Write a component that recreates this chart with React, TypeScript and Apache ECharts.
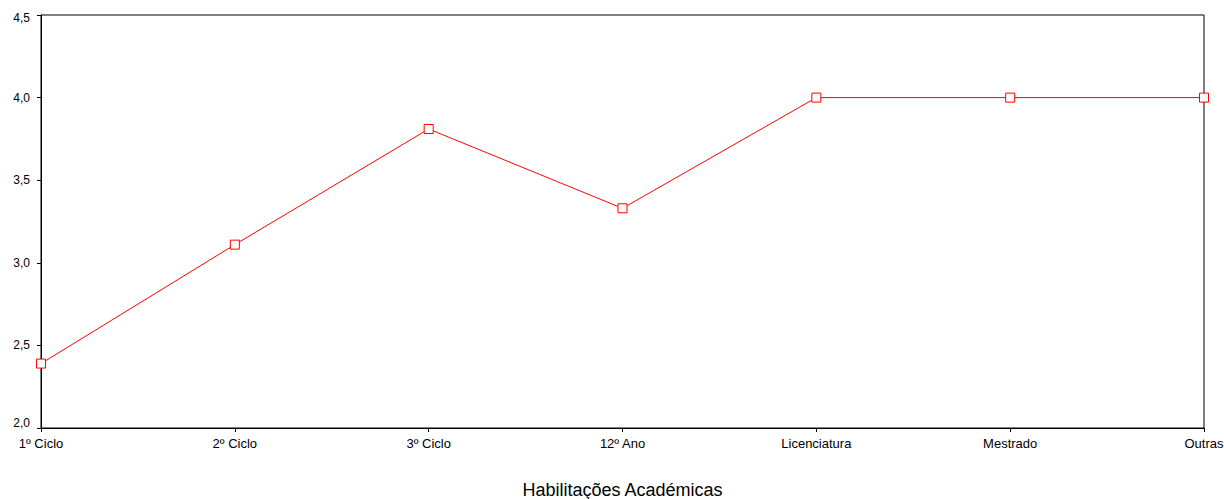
import React, { useEffect, useRef } from "react";
import * as echarts from "echarts";

const categories = ["1º Ciclo", "2º Ciclo", "3º Ciclo", "12º Ano", "Licenciatura", "Mestrado", "Outras"];
const values = [2.39, 3.11, 3.81, 3.33, 4.0, 4.0, 4.0];
const axisTitle = "Habilitações Académicas";
const yMin = 2.0;
const yMax = 4.5;
const yStep = 0.5;

const FONT = "'Liberation Sans', Arial, sans-serif";

export default function App() {
  const ref = useRef<HTMLDivElement>(null);

  useEffect(() => {
    if (!ref.current) return;
    const chart = echarts.init(ref.current, undefined, { renderer: "svg", width: 1224, height: 499 });
    const labelText = { fontFamily: FONT, fontSize: 12, color: "#000" };
    chart.setOption({
      animation: false,
      backgroundColor: "#ffffff",
      grid: {
        left: 41,
        right: 20,
        top: 15,
        bottom: 71,
        outerBoundsMode: "none",
        containLabel: false,
        show: true,
        borderColor: "#000000",
        borderWidth: 1,
        backgroundColor: "transparent",
      },
      xAxis: {
        type: "category",
        data: categories,
        boundaryGap: false,
        name: axisTitle,
        nameLocation: "middle",
        nameGap: 53,
        nameTextStyle: { fontFamily: FONT, fontSize: 18, color: "#000" },
        axisLine: { lineStyle: { color: "#000", width: 1 } },
        axisTick: { show: true, length: 4, lineStyle: { color: "#000" }, alignWithLabel: true },
        axisLabel: { fontFamily: FONT, fontSize: 13, color: "#000", margin: 9, interval: 0 },
        splitLine: { show: false },
      },
      yAxis: {
        type: "value",
        min: yMin,
        max: yMax,
        interval: yStep,
        axisLine: { show: true, lineStyle: { color: "#000", width: 1 } },
        axisTick: { show: true, length: 4, lineStyle: { color: "#000" } },
        axisLabel: {
          ...labelText,
          margin: 11,
          formatter: (v: number) => {
            const s = v.toFixed(1).replace(".", ",");
            if (v === yMin) return `{bot|${s}}`;
            if (v === yMax) return `{top|${s}}`;
            return s;
          },
          rich: {
            bot: { ...labelText, padding: [0, 0, 10, 0] },
            top: { ...labelText, padding: [6, 0, 0, 0] },
          },
        },
        splitLine: { show: false },
      },
      series: [
        {
          type: "line",
          data: values,
          symbol: "rect",
          symbolSize: 9,
          showAllSymbol: true,
          lineStyle: { color: "#ff0000", width: 1 },
          itemStyle: { color: "#ffffff", borderColor: "#ff0000", borderWidth: 1 },
          emphasis: { disabled: true },
        },
      ],
    });
    return () => chart.dispose();
  }, []);

  return (
    <div
      ref={ref}
      style={{ position: "fixed", left: 0, top: 0, width: 1224, height: 499, background: "#fff" }}
    />
  );
}
